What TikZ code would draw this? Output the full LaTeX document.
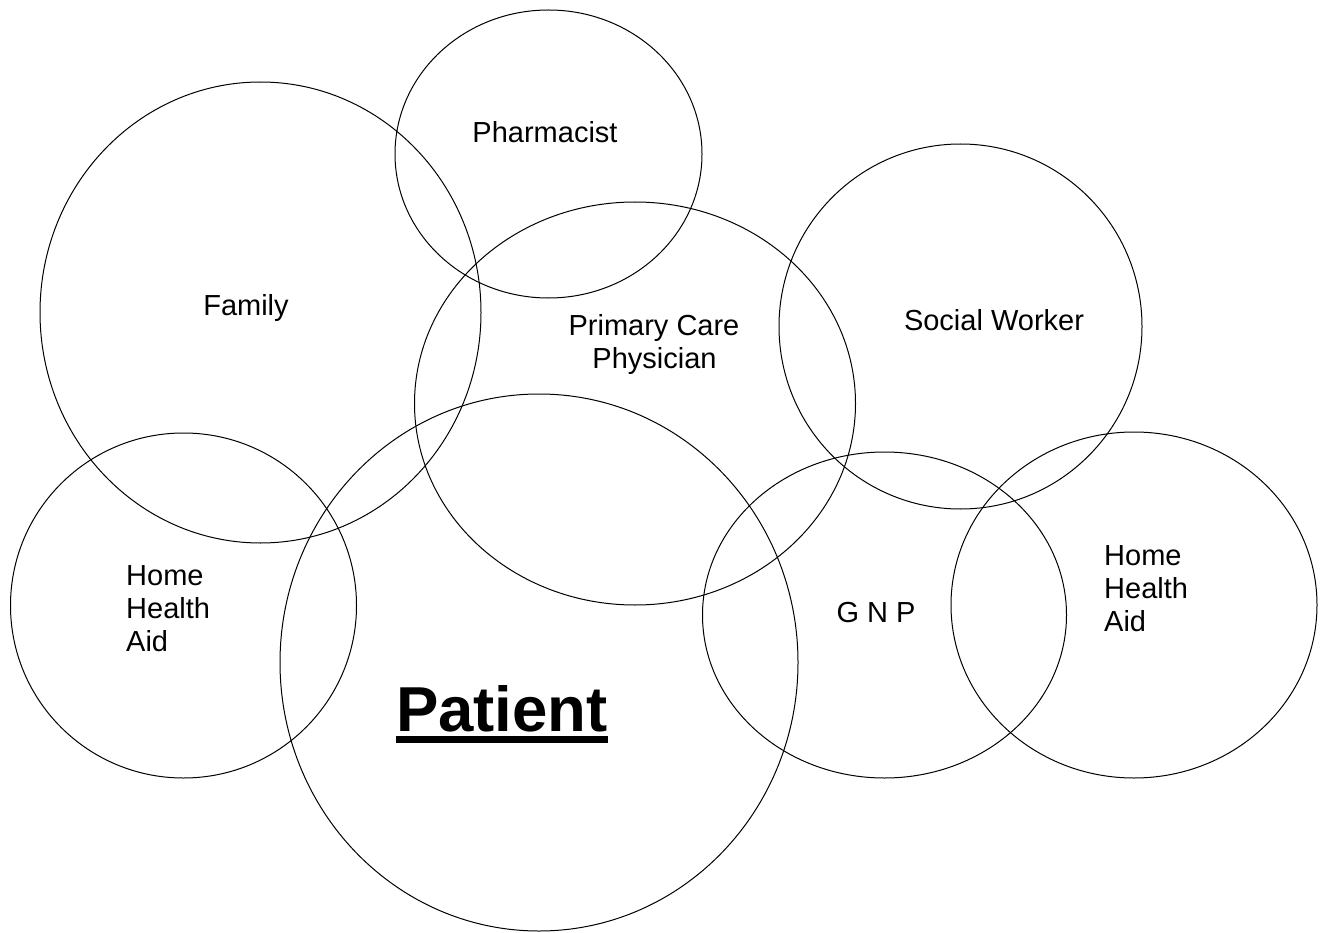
\documentclass[tikz,border=0pt]{standalone}
\usepackage{fontspec}
\setmainfont{Liberation Sans}
\usetikzlibrary{shapes.geometric}
\newcommand\thickul[1]{\setbox0\hbox{#1}\rlap{\rule[-12pt]{\wd0}{7.5pt}}\box0}
\tikzset{
  circ/.style={draw=black, line width=1pt, ellipse, inner sep=0pt, fill=none},
  lbl/.style={font=\fontsize{29}{33}\selectfont, inner sep=0pt, anchor=base},
}
\begin{document}
\begin{tikzpicture}[x=1pt,y=-1pt]
\useasboundingbox (0,0) rectangle (1322,933);
\fill[white] (0,0) rectangle (1322,933);
% circles
\node[circ, minimum width=441pt, minimum height=461pt] (family) at (260.5,312.5) {};
\node[circ, minimum width=307pt, minimum height=288pt] (pharm) at (548.5,154) {};
\node[circ, minimum width=441pt, minimum height=403pt] (pcp) at (635,403.5) {};
\node[circ, minimum width=363pt, minimum height=365pt] (sw) at (960.5,326.5) {};
\node[circ, minimum width=346pt, minimum height=345pt] (hhaL) at (183.5,605.5) {};
\node[circ, minimum width=518pt, minimum height=537pt] (patient) at (539,662.5) {};
\node[circ, minimum width=364pt, minimum height=326pt] (gnp) at (884.5,615) {};
\node[circ, minimum width=366pt, minimum height=346pt] (hhaR) at (1134,605) {};
% labels
\node[lbl] (tpharm) at (545,143) {Pharmacist};
\node[lbl] (tfamily) at (246,316) {Family};
\node[lbl] (tpcp1) at (654,335) {Primary Care};
\node[lbl] (tpcp2) at (654.5,368) {Physician};
\node[lbl] (tsw) at (994,330) {Social Worker};
\node[lbl] (tgnp) at (876,622) {G N P};
\node[lbl, anchor=base west] (thhaL1) at (126,585) {Home};
\node[lbl, anchor=base west] (thhaL2) at (126,618) {Health};
\node[lbl, anchor=base west] (thhaL3) at (126,651) {Aid};
\node[lbl, anchor=base west] (thhaR1) at (1104,565) {Home};
\node[lbl, anchor=base west] (thhaR2) at (1104,598) {Health};
\node[lbl, anchor=base west] (thhaR3) at (1104,631) {Aid};
\node[lbl, font=\fontsize{63.5}{70}\selectfont\bfseries] (tpatient) at (502,731) {\thickul{Patient}};
\end{tikzpicture}
\end{document}
